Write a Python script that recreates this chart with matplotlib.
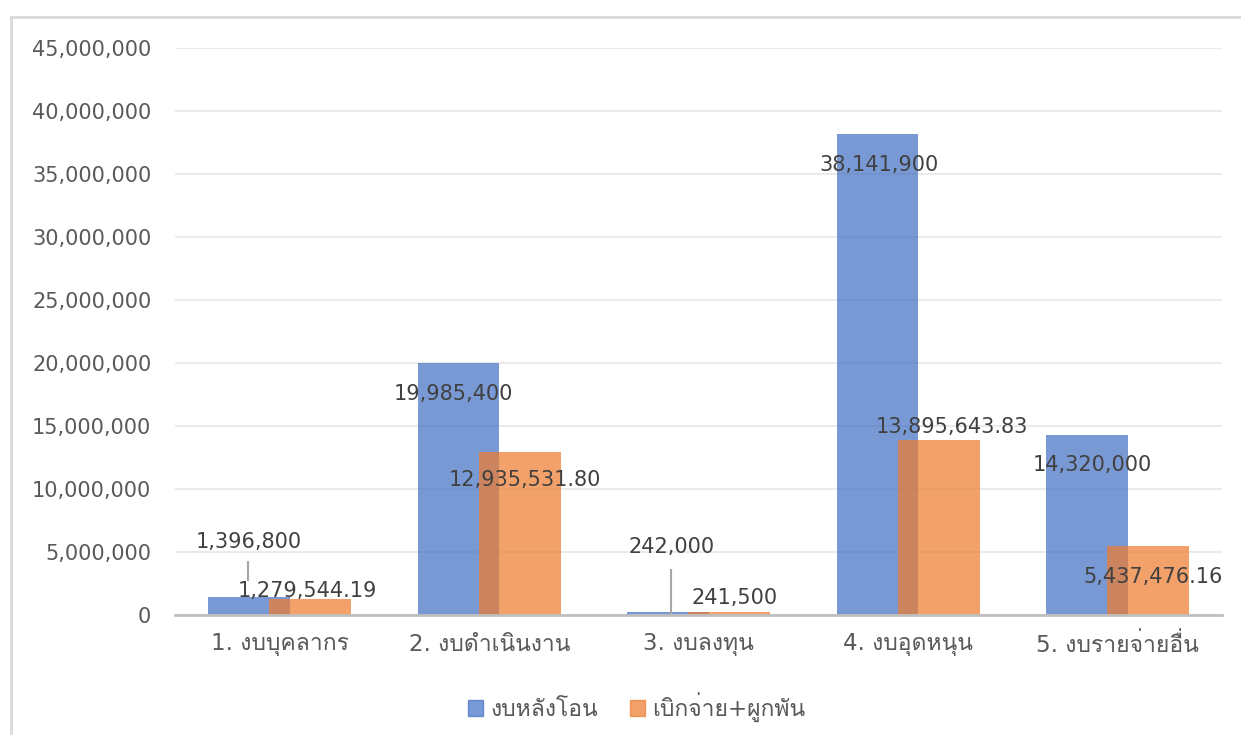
import matplotlib
matplotlib.use('Agg')
import matplotlib.pyplot as plt
import numpy as np
from matplotlib import font_manager
from matplotlib.ft2font import FT2Font
from matplotlib.lines import Line2D
from matplotlib.patches import Patch

categories = ['1. งบบุคลากร', '2. งบดำเนินงาน', '3. งบลงทุน', '4. งบอุดหนุน', '5. งบรายจ่ายอื่น']
budget = [1396800, 19985400, 242000, 38141900, 14320000]
spent = [1279544.19, 12935531.80, 241500, 13895643.83, 5437476.16]
budget_labels = ['1,396,800', '19,985,400', '242,000', '38,141,900', '14,320,000']
spent_labels = ['1,279,544.19', '12,935,531.80', '241,500', '13,895,643.83', '5,437,476.16']
series_names = ['งบหลังโอน', 'เบิกจ่าย+ผูกพัน']
yticks = np.arange(0, 45000001, 5000000)


def thai_fonts():
    found = []
    for f in font_manager.fontManager.ttflist:
        try:
            if 0x0E07 in FT2Font(f.fname).get_charmap():
                if f.name not in found:
                    found.append(f.name)
        except Exception:
            pass
    return found


tf = thai_fonts()
if 'Loma' in tf:
    tf.remove('Loma')
    tf.insert(0, 'Loma')
plt.rcParams['font.family'] = ['DejaVu Sans'] + tf

txt = '#595959'
fs = 15
fig = plt.figure(figsize=(12.41, 7.35), dpi=100)
ax = fig.add_axes([0.141, 0.1633, 0.844, 0.7714])

x = np.arange(len(categories))
w = 0.39
off = 0.146
ax.bar(x - off, budget, w, color='#4472C4', alpha=0.72, lw=0)
ax.bar(x + off, spent, w, color='#ED7D31', alpha=0.72, lw=0)

ax.set_xlim(-0.5, 4.5)
ax.set_ylim(0, 45000000)
ax.set_yticks(yticks)
ax.set_yticklabels([f'{v:,.0f}' for v in yticks], fontsize=fs, color=txt)
ax.set_xticks(x)
ax.set_xticklabels(categories, fontsize=16.5, color=txt)
ax.tick_params(axis='both', length=0)
ax.tick_params(axis='y', pad=17)
ax.tick_params(axis='x', pad=13)
ax.grid(axis='y', color='#EBEBEB', lw=1.5)
ax.set_axisbelow(True)
for s in ['top', 'right', 'left']:
    ax.spines[s].set_visible(False)
ax.spines['bottom'].set_color('#BFBFBF')
ax.spines['bottom'].set_linewidth(2)

# label offsets (dx in category units, dy in points)
b_pos = [(-0.15, 40), (-0.17, -22), (-0.13, 47), (-0.14, -22), (-0.12, -22)]
s_pos = [(0.13, 6), (0.17, -20), (0.17, 10), (0.21, 9), (0.17, -22)]
for i in range(len(categories)):
    dx, dy = b_pos[i]
    ax.annotate(budget_labels[i], (x[i] + dx, budget[i]), xytext=(0, dy),
                textcoords='offset points', ha='center', va='center',
                fontsize=fs, color='#404040')
    dx, dy = s_pos[i]
    ax.annotate(spent_labels[i], (x[i] + dx, spent[i]), xytext=(0, dy),
                textcoords='offset points', ha='center', va='center',
                fontsize=fs, color='#404040')

# leader lines for the small bars
ax.plot([x[0] - 0.15] * 2, [2750000, 4200000], color='#A6A6A6', lw=1.5)
ax.plot([x[2] - 0.13] * 2, [0, 3600000], color='#A6A6A6', lw=1.5)

handles = [Patch(color='#4472C4', alpha=0.72), Patch(color='#ED7D31', alpha=0.72)]
leg = fig.legend(handles, series_names, loc='center', bbox_to_anchor=(0.513, 0.038),
                 ncol=2, frameon=False, fontsize=16.5, handlelength=0.65, handleheight=0.65,
                 handletextpad=0.3, columnspacing=1.4)
for t in leg.get_texts():
    t.set_color(txt)

# chart frame
fig.add_artist(Line2D([0.0085, 0.0085], [0, 0.977], color='#D9D9D9', lw=2))
fig.add_artist(Line2D([0.0085, 1.0], [0.977, 0.977], color='#D9D9D9', lw=2))

fig.savefig('out.png', dpi=100)
